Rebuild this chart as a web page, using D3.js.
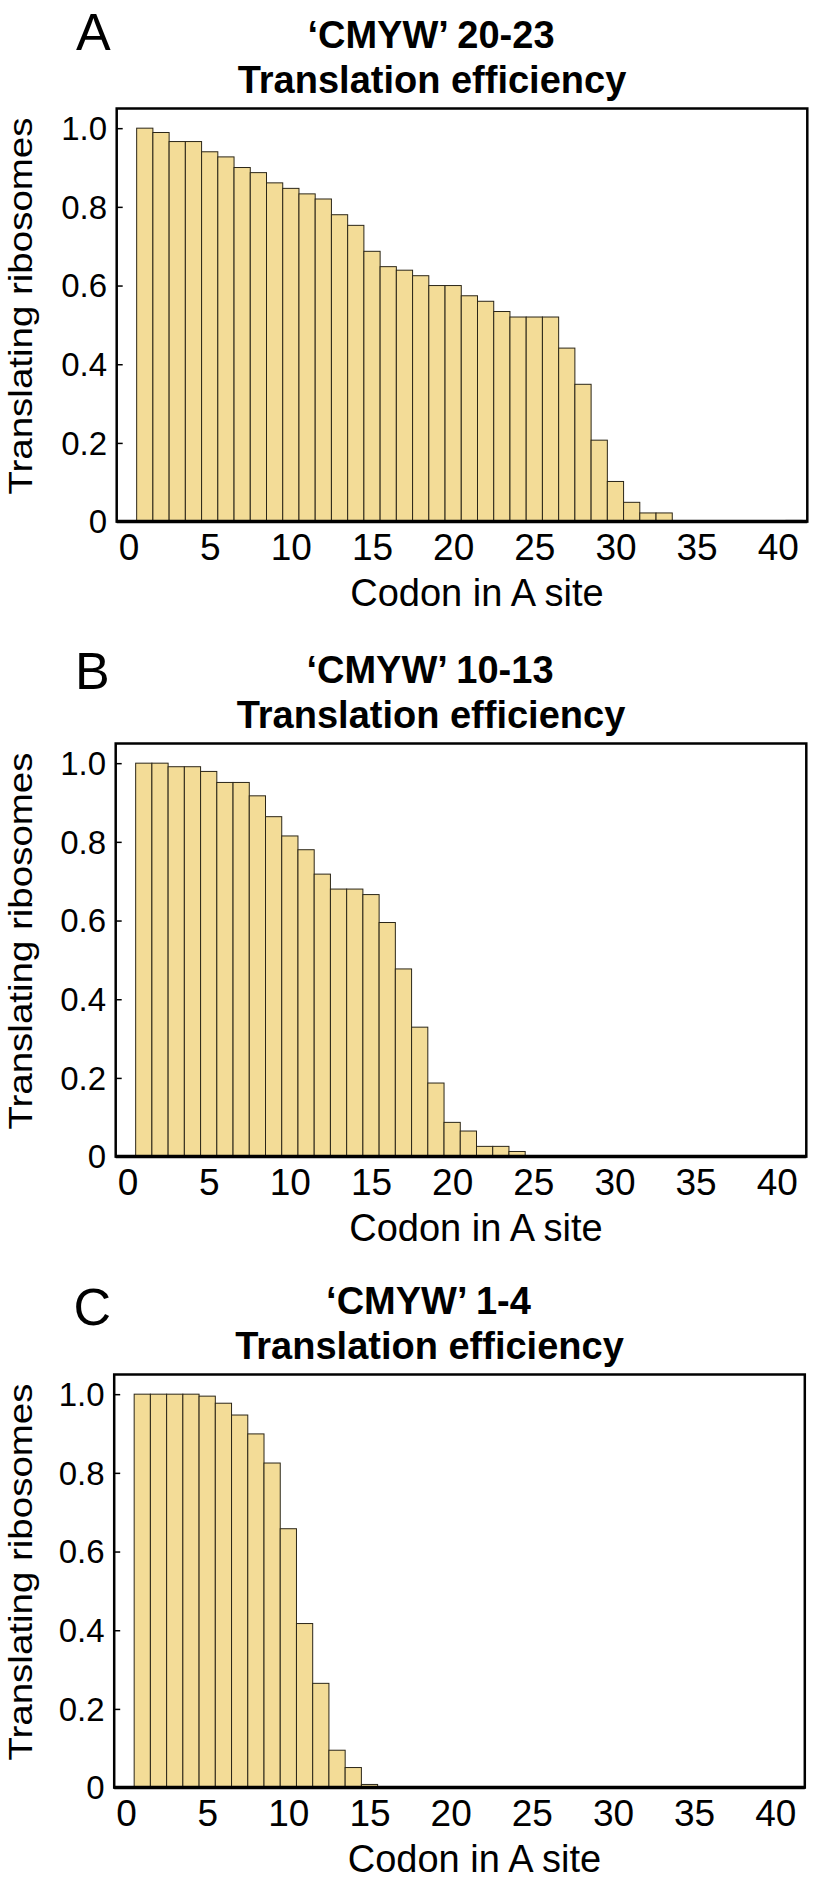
<!DOCTYPE html>
<html>
<head>
<meta charset="utf-8">
<script src="https://cdn.jsdelivr.net/npm/d3@7"></script>
<style>
  html, body { margin: 0; padding: 0; background: #fff; }
  svg { display: block; font-family: "Liberation Sans", Arial, Helvetica, sans-serif; }
</style>
</head>
<body>
<svg id="chart" width="814" height="1885"></svg>
<script>
// ---- data ----
const panelLetters = ["A", "B", "C"];
const titleLine1 = ["\u2018CMYW\u2019 20-23", "\u2018CMYW\u2019 10-13", "\u2018CMYW\u2019 1-4"];
const titleLine2 = "Translation efficiency";
const xLabel = "Codon in A site";
const yLabel = "Translating ribosomes";
const xTicks = [0, 5, 10, 15, 20, 25, 30, 35, 40];
const yTicks = [0, 0.2, 0.4, 0.6, 0.8, 1.0];
const yTickLabels = ["0", "0.2", "0.4", "0.6", "0.8", "1.0"];

const codonsA = d3.range(1, 42);
const efficiencyA = [1.0, 0.989, 0.966, 0.966, 0.940, 0.927, 0.900, 0.887, 0.861, 0.847,
  0.833, 0.820, 0.780, 0.753, 0.687, 0.648, 0.639, 0.625, 0.600, 0.600,
  0.574, 0.560, 0.534, 0.520, 0.520, 0.520, 0.441, 0.349, 0.207, 0.102,
  0.049, 0.022, 0.022, 0, 0, 0, 0, 0, 0, 0, 0.003];

const codonsB = d3.range(1, 41);
const efficiencyB = [1.0, 1.0, 0.991, 0.991, 0.979, 0.951, 0.951, 0.917, 0.864, 0.815,
  0.780, 0.718, 0.680, 0.680, 0.666, 0.595, 0.477, 0.329, 0.187, 0.087,
  0.065, 0.026, 0.026, 0.013, 0, 0, 0, 0, 0, 0,
  0, 0, 0, 0, 0, 0, 0, 0, 0, 0];

const codonsC = d3.range(1, 41);
const efficiencyC = [1.0, 1.0, 1.0, 1.0, 0.995, 0.977, 0.947, 0.899, 0.825, 0.658,
  0.417, 0.265, 0.095, 0.051, 0.008, 0, 0, 0, 0, 0,
  0, 0, 0, 0, 0, 0, 0, 0, 0, 0,
  0, 0, 0, 0, 0, 0, 0, 0, 0, 0];

const codonSets = [codonsA, codonsB, codonsC];
const efficiencySets = [efficiencyA, efficiencyB, efficiencyC];

// ---- layout ----
const svg = d3.select("#chart");
const boxLeft = 116.7, boxRight = 807.3;
const boxTops = [108.5, 743.5, 1374.5];
const panelShift = [0, -1, -2.5];
const letterBase = [50, 689, 1325];
const plotH = 413.1;
const barFill = "#F3DC97";
const barStroke = "#2b2618";

panelLetters.forEach((letter, i) => {
  const top = boxTops[i];
  const bottom = top + plotH;
  const outer = svg.append("g");
  const g = outer.append("g").attr("transform", `translate(${panelShift[i]},0)`);

  const x = d3.scaleLinear().domain([-0.73, 41.82]).range([boxLeft, boxRight]);
  const y = d3.scaleLinear().domain([0, 1.05]).range([bottom, top]);

  const data = codonSets[i].map((c, k) => ({ c, v: efficiencySets[i][k] }));

  // bars
  g.append("g").selectAll("rect").data(data).join("rect")
    .attr("x", d => x(d.c - 0.5))
    .attr("width", d => x(d.c + 0.5) - x(d.c - 0.5))
    .attr("y", d => y(d.v))
    .attr("height", d => y(0) - y(d.v))
    .attr("fill", barFill)
    .attr("stroke", barStroke)
    .attr("stroke-width", 1);

  // frame
  g.append("rect")
    .attr("x", boxLeft).attr("y", top)
    .attr("width", boxRight - boxLeft).attr("height", bottom - top)
    .attr("fill", "none").attr("stroke", "#000").attr("stroke-width", 2.5);
  g.append("line")
    .attr("x1", boxLeft).attr("x2", boxRight)
    .attr("y1", bottom).attr("y2", bottom)
    .attr("stroke", "#000").attr("stroke-width", 3.5);

  // y axis (inward ticks)
  const yAxis = d3.axisRight(y).tickValues(yTicks).tickSize(6).tickFormat("");
  const ya = g.append("g").attr("transform", `translate(${boxLeft},0)`).call(yAxis);
  ya.select(".domain").remove();
  ya.selectAll(".tick line").attr("stroke", "#000").attr("stroke-width", 1.5);

  g.append("g").selectAll("text").data(yTicks).join("text")
    .attr("x", 107)
    .attr("y", d => y(d) + 11.8)
    .attr("text-anchor", "end")
    .attr("font-size", 33)
    .attr("fill", "#000")
    .text((d, k) => yTickLabels[k]);

  // x axis labels
  const xAxis = d3.axisBottom(x).tickValues(xTicks).tickSize(0).tickPadding(0);
  const xa = g.append("g").attr("transform", `translate(0,${bottom})`).call(xAxis);
  xa.select(".domain").remove();
  xa.selectAll(".tick text")
    .attr("font-size", 37)
    .attr("font-family", "'Liberation Sans', Arial, sans-serif")
    .attr("fill", "#000")
    .attr("dy", 0)
    .attr("y", 38.5);

  // axis titles
  g.append("text")
    .attr("x", 477).attr("y", bottom + 84)
    .attr("text-anchor", "middle")
    .attr("font-size", 38)
    .attr("fill", "#000")
    .text(xLabel);

  const midY = top + plotH / 2 - 9;
  outer.append("text")
    .attr("transform", `translate(32,${midY}) rotate(-90)`)
    .attr("text-anchor", "middle")
    .attr("font-size", 34)
    .attr("textLength", 377)
    .attr("lengthAdjust", "spacingAndGlyphs")
    .attr("fill", "#000")
    .text(yLabel);

  // titles
  g.append("text")
    .attr("x", 431).attr("y", top - 61)
    .attr("text-anchor", "middle")
    .attr("font-size", 38).attr("font-weight", "bold")
    .attr("fill", "#000")
    .text(titleLine1[i]);
  g.append("text")
    .attr("x", 432).attr("y", top - 16)
    .attr("text-anchor", "middle")
    .attr("font-size", 38).attr("font-weight", "bold")
    .attr("fill", "#000")
    .text(titleLine2);

  // panel letter
  g.append("text")
    .attr("x", 76).attr("y", letterBase[i])
    .attr("font-size", 52)
    .attr("fill", "#000")
    .text(letter);
});
</script>
</body>
</html>
